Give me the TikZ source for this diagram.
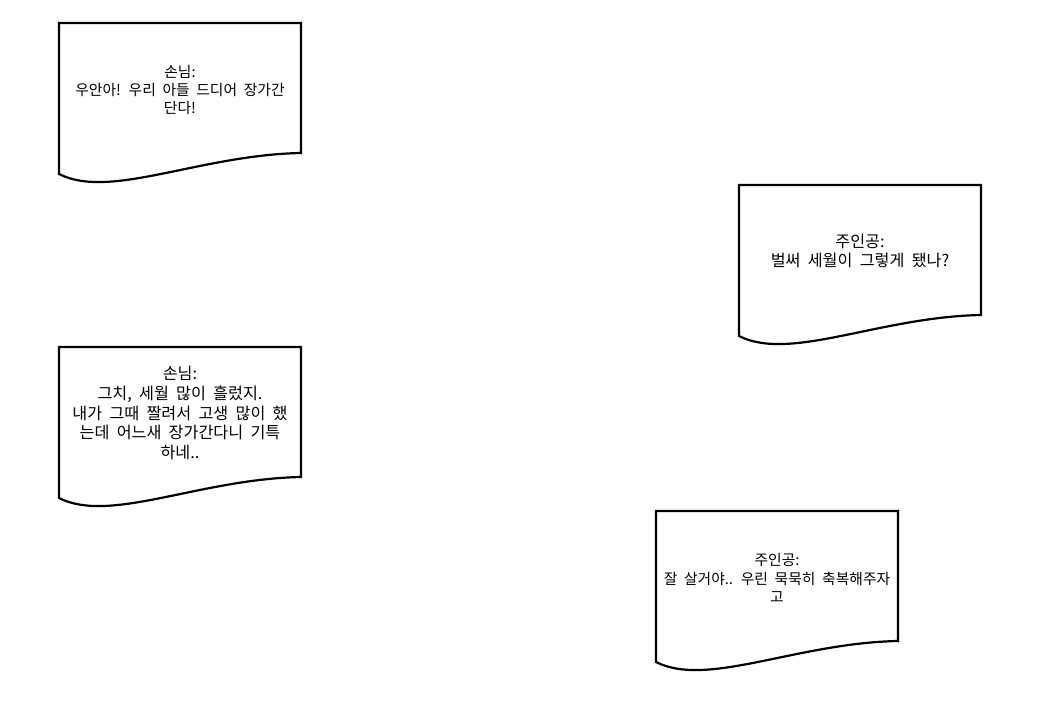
\documentclass[tikz,border=0pt]{standalone}
\usepackage{fontspec}
\newfontfamily\krfont[WordSpace=2]{Noto Sans CJK KR}
\begin{document}
\begin{tikzpicture}[x=1pt,y=1pt,
  docshape/.style={draw=black,line width=2.2pt,line join=miter,fill=white},
  doctext/.style={align=center,inner sep=0pt},
  smalltext/.style={doctext,font=\krfont\fontsize{14.8}{18.3}\selectfont},
  bigtext/.style={doctext,font=\krfont\fontsize{16.2}{19.9}\selectfont}]
\useasboundingbox (0,0) rectangle (1040,720);
\newcommand\drawdoc[2]{%
  \begin{scope}[shift={(#1,720-#2)}]
    \path[docshape] (0,0) -- (242,0) -- (242,-130)
      .. controls (140,-132) and (51,-177) .. (0,-151) -- cycle;
  \end{scope}}
\drawdoc{59}{23}
\drawdoc{59}{347}
\drawdoc{739}{185}
\drawdoc{656}{511}
\node[smalltext] (a) at (180,720-90) {손님:\\우안아! 우리 아들 드디어 장가간\\단다!};
\node[bigtext] (b) at (180,720-413) {손님:\\그치, 세월 많이 흘렀지.\\내가 그때 짤려서 고생 많이 했\\는데 어느새 장가간다니 기특\\하네..};
\node[bigtext] (c) at (860,720-251) {주인공:\\벌써 세월이 그렇게 됐나?};
\node[smalltext] (d) at (777,720-578) {주인공:\\잘 살거야.. 우린 묵묵히 축복해주자\\고};
\end{tikzpicture}
\end{document}
